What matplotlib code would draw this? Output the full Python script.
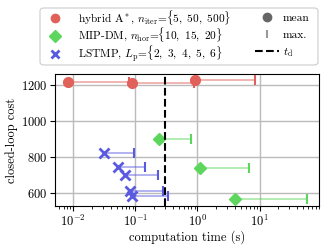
import matplotlib
matplotlib.use("Agg")
import matplotlib.pyplot as plt
from matplotlib.lines import Line2D
from matplotlib.patches import FancyBboxPatch

plt.rcParams['font.family'] = 'serif'
plt.rcParams['font.serif'] = ['cmr10']
plt.rcParams['mathtext.fontset'] = 'cm'
plt.rcParams['axes.formatter.use_mathtext'] = True
plt.rcParams['font.size'] = 9

# hybrid A*, n_iter = 5, 50, 500
astar_mean = [0.0081, 0.0895, 0.905]
astar_max = [0.079, 0.88, 8.4]
astar_cost = [1218, 1209, 1226]

# MIP-DM, n_hor = 10, 15, 20
mip_mean = [0.237, 1.10, 4.09]
mip_max = [0.80, 6.65, 57.8]
mip_cost = [900, 742, 568]

# LSTMP, L_p = 2..6
lstmp_mean = [0.0316, 0.0519, 0.0673, 0.0818, 0.0895]
lstmp_max = [0.096, 0.145, 0.234, 0.278, 0.332]
lstmp_cost = [824, 746, 702, 614, 586]

t_d = 0.3

c_red = '#e0605a'
c_green = '#5cd65c'
c_blue = '#5a5ae0'

fig = plt.figure(figsize=(3.28, 2.49), dpi=100)
ax = fig.add_axes([0.168, 0.174, 0.805, 0.528])

def draw(means, maxs, costs, color, marker, ms, mew=1.0):
    ax.hlines(costs, means, maxs, color=color, alpha=0.5, lw=1.3, zorder=3)
    ax.plot(maxs, costs, ls='none', marker='|', ms=7, mew=1.5, color=color, zorder=4)
    ax.plot(means, costs, ls='none', marker=marker, ms=ms, mew=mew, color=color, zorder=5)

draw(astar_mean, astar_max, astar_cost, c_red, 'o', 7)
draw(mip_mean, mip_max, mip_cost, c_green, 'D', 6.5)
draw(lstmp_mean, lstmp_max, lstmp_cost, c_blue, 'x', 6.5, mew=2)

ax.axvline(t_d, color='black', ls='--', lw=1.5, zorder=6)

ax.set_xscale('log')
ax.set_xlim(0.0051, 91)
ax.set_ylim(531, 1259)
ax.set_yticks([600, 800, 1000, 1200])
ax.grid(True, color='#bbbbbb', lw=1.0, zorder=0)
ax.set_axisbelow(True)
ax.tick_params(axis='both', which='major', pad=2)
ax.set_xlabel('computation time (s)', labelpad=1)
ax.set_ylabel('closed-loop cost', labelpad=2)

# legend frame shared by the two legend columns
frame = FancyBboxPatch((40 / 328, 1 - 65 / 249), 278 / 328, 57 / 249,
                       boxstyle='round,pad=0,rounding_size=0.012',
                       transform=fig.transFigure, facecolor='white',
                       edgecolor='#cccccc', lw=0.8)
fig.add_artist(frame)

h_methods = [
    Line2D([], [], ls='none', marker='o', ms=6, color=c_red),
    Line2D([], [], ls='none', marker='D', ms=6, color=c_green),
    Line2D([], [], ls='none', marker='x', ms=6, mew=2, color=c_blue),
]
l_methods = [
    r'hybrid A$^*$, $n_\mathrm{iter}$=$\{5,\ 50,\ 500\}$',
    r'MIP-DM, $n_\mathrm{hor}$=$\{10,\ 15,\ 20\}$',
    r'LSTMP, $L_\mathrm{p}$=$\{2,\ 3,\ 4,\ 5,\ 6\}$',
]
h_keys = [
    Line2D([], [], ls='none', marker='o', ms=6, color='#666666'),
    Line2D([], [], ls='none', marker='|', ms=6, mew=1.5, color='#999999'),
    Line2D([], [], ls='--', lw=1.5, color='black'),
]
l_keys = ['mean', 'max.', r'$t_\mathrm{d}$']

leg1 = fig.legend(h_methods, l_methods, loc='center left',
                  bbox_to_anchor=(46 / 328, 1 - 36 / 249), frameon=False,
                  fontsize=8.2, labelspacing=-0.14, borderpad=0,
                  borderaxespad=0, handlelength=1.6, handletextpad=1.2)
leg2 = fig.legend(h_keys, l_keys, loc='center left',
                  bbox_to_anchor=(255 / 328, 1 - 36 / 249), frameon=False,
                  fontsize=8.2, labelspacing=0.6, borderpad=0,
                  borderaxespad=0, handlelength=2.1, handletextpad=0.35)

fig.savefig('out.png', dpi=100)
